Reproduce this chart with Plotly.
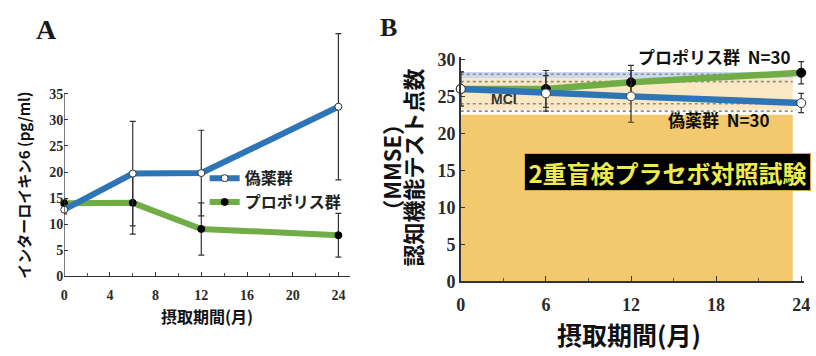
import plotly.graph_objects as go

# ---------------- data ----------------
months_A = [0, 6, 12, 24]
il6_placebo = [12.8, 19.7, 19.8, 32.5]
il6_placebo_err = [0.8, 10.0, 8.2, 14.0]
il6_propolis = [14.0, 14.1, 9.1, 7.9]
il6_propolis_err = [0.8, 6.0, 5.0, 4.2]

months_B = [0, 6, 12, 24]
mmse_placebo = [26.0, 25.4, 25.0, 24.1]
mmse_placebo_err = [2.3, 2.4, 3.5, 1.3]
mmse_propolis = [26.0, 26.0, 26.9, 28.2]
mmse_propolis_err = [2.3, 2.5, 2.3, 1.5]

ticks_A_x = [0, 4, 8, 12, 16, 20, 24]
ticks_A_y = [0, 5, 10, 15, 20, 25, 30, 35]
ticks_B_x = [0, 6, 12, 18, 24]
ticks_B_y = [0, 5, 10, 15, 20, 25, 30]

# reference bands in panel B (MMSE score ranges)
dementia_band = [0, 22.5]
mci_band = [23.2, 27.5]
normal_band = [27.5, 28.3]
dotted_levels = [23.0, 24.0, 27.0, 28.0]
band_x_end = 23.4

name_placebo = "偽薬群"
name_propolis = "プロポリス群"

BLUE = "#2E75B6"
GREEN = "#70AD47"
CJK = "Noto Sans CJK JP"
SERIF = "Liberation Serif"

fig = go.Figure()

err_style = dict(type="data", color="#333333", thickness=1.2, width=3)

# Panel A
fig.add_trace(go.Scatter(
    x=months_A, y=il6_propolis, name=name_propolis, mode="lines+markers",
    line=dict(color=GREEN, width=6),
    marker=dict(color="black", size=7, line=dict(color="black", width=1)),
    error_y=dict(array=il6_propolis_err, **err_style),
    xaxis="x", yaxis="y", legendrank=2, cliponaxis=False))
fig.add_trace(go.Scatter(
    x=months_A, y=il6_placebo, name=name_placebo, mode="lines+markers",
    line=dict(color=BLUE, width=6),
    marker=dict(color="white", size=7, line=dict(color="#333333", width=1)),
    error_y=dict(array=il6_placebo_err, **err_style),
    xaxis="x", yaxis="y", legendrank=1, cliponaxis=False))

# Panel B
fig.add_trace(go.Scatter(
    x=months_B, y=mmse_propolis, name=name_propolis, mode="lines+markers",
    line=dict(color=GREEN, width=6.5),
    marker=dict(color="black", size=9, line=dict(color="black", width=1)),
    error_y=dict(array=mmse_propolis_err, **err_style),
    xaxis="x2", yaxis="y2", showlegend=False, cliponaxis=False))
fig.add_trace(go.Scatter(
    x=months_B, y=mmse_placebo, name=name_placebo, mode="lines+markers",
    line=dict(color=BLUE, width=6.5),
    marker=dict(color="white", size=9, line=dict(color="#333333", width=1)),
    error_y=dict(array=mmse_placebo_err, **err_style),
    xaxis="x2", yaxis="y2", showlegend=False, cliponaxis=False))

shapes = []
# bands panel B
shapes.append(dict(type="rect", xref="x2", yref="y2", x0=0, x1=band_x_end,
                   y0=dementia_band[0], y1=dementia_band[1],
                   fillcolor="#F3C96E", line=dict(width=0), layer="below"))
shapes.append(dict(type="rect", xref="x2", yref="y2", x0=0, x1=band_x_end,
                   y0=mci_band[0], y1=mci_band[1],
                   fillcolor="#FAE8C4", line=dict(width=0), layer="below"))
shapes.append(dict(type="rect", xref="x2", yref="y2", x0=0, x1=band_x_end,
                   y0=normal_band[0], y1=normal_band[1],
                   fillcolor="#CCD9EC", line=dict(width=0), layer="below"))
for lv in dotted_levels:
    shapes.append(dict(type="line", xref="x2", yref="y2", x0=0, x1=band_x_end,
                       y0=lv, y1=lv, line=dict(color="#8C8C8C", width=1.6, dash="dot"),
                       layer="below"))
# Panel A y-axis line only up to last tick
shapes.append(dict(type="line", xref="x", yref="y", x0=0, x1=0,
                   y0=ticks_A_y[0], y1=ticks_A_y[-1],
                   line=dict(color="#333333", width=1.2)))

tickfont_A = dict(family=SERIF, size=14, color="#2a2a2a", weight="bold")
tickfont_B = dict(family=SERIF, size=18, color="#2a2a2a", weight="bold")

fig.update_layout(
    width=816, height=356,
    margin=dict(l=0, r=0, t=0, b=0),
    paper_bgcolor="white", plot_bgcolor="white",
    shapes=shapes,
    showlegend=True,
    legend=dict(x=0.248, y=0.545, xanchor="left", yanchor="top",
                bgcolor="rgba(0,0,0,0)",
                font=dict(family=CJK, size=16, color="#222222", weight="bold"),
                tracegroupgap=0, itemwidth=30),
    xaxis=dict(domain=[60 / 816, 350 / 816], range=[0, 25.04],
               tickvals=ticks_A_x, ticks="inside", ticklen=4, tickcolor="#333333",
               minor=dict(dtick=2, tick0=0, ticks="inside", ticklen=3, tickcolor="#555555"),
               showline=True, linecolor="#333333", linewidth=1.2,
               showgrid=False, zeroline=False, tickfont=tickfont_A, anchor="y",
               ticklabelstandoff=6),
    yaxis=dict(domain=[(356 - 283) / 356, (356 - 19.7) / 356], range=[0, 48],
               tickvals=ticks_A_y, ticks="inside", ticklen=4, tickcolor="#333333",
               showline=False, showgrid=False, zeroline=False,
               tickfont=tickfont_A, anchor="x"),
    xaxis2=dict(domain=[462 / 816, 810 / 816], range=[0, 24.2],
                tickvals=ticks_B_x, ticks="inside", ticklen=5, tickcolor="#333333",
                minor=dict(dtick=3, tick0=0, ticks="inside", ticklen=3, tickcolor="#555555"),
                showline=True, linecolor="#333333", linewidth=1.5,
                showgrid=False, zeroline=False, tickfont=tickfont_B, anchor="y2",
                ticklabelstandoff=6, ticklabeloverflow="allow"),
    yaxis2=dict(domain=[(356 - 288) / 356, (356 - 52.7) / 356], range=[0, 30.3],
                tickvals=ticks_B_y, ticks="inside", ticklen=4, tickcolor="#333333",
                showline=True, linecolor="#333333", linewidth=1.5,
                showgrid=False, zeroline=False, tickfont=tickfont_B, anchor="x2"),
)

def P(xpx, ypx):
    return xpx / 816, (356 - ypx) / 356

ann = []
def add_text(text, xpx, ypx, size, family=CJK, color="#111111", angle=0, **kw):
    x, y = P(xpx, ypx)
    ann.append(dict(text=text, x=x, y=y, xref="paper", yref="paper",
                    xanchor="center", yanchor="middle", showarrow=False,
                    textangle=angle,
                    font=dict(family=family, size=size, color=color, weight="bold"), **kw))

add_text("A", 42, 24, 28, family=SERIF, color="#1a1a1a")
add_text("B", 389, 22, 26, family=SERIF, color="#1a1a1a")
add_text("インターロイキン6 (pg/ml)", 18, 187, 15, angle=-90)
add_text("摂取期間(月)", 205, 325, 16)
add_text("（MMSE）", 391, 168, 22, angle=-90)
add_text("認知機能テスト点数", 413, 168, 22, angle=-90)
add_text("摂取期間(月)", 633, 343, 25)
add_text("プロポリス群  N=30", 719, 52, 17)
add_text("偽薬群  N=30", 724, 118, 17)
add_text("MCI", 506, 97, 14, family="Liberation Sans", color="#333333")
add_text("2重盲検プラセボ対照試験", 671.5, 173, 24, color="#EDEB4F",
         bgcolor="black", bordercolor="#D9A54A", borderwidth=1,
         width=281, height=32, borderpad=2)

fig.update_layout(annotations=ann)

fig.write_html("out.html")
